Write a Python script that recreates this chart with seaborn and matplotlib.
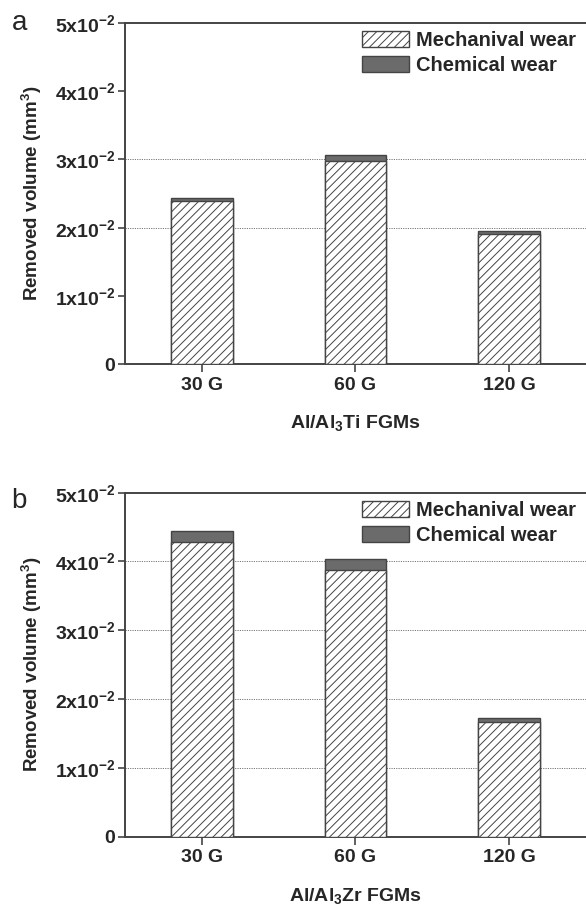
import matplotlib
matplotlib.use("Agg")
import matplotlib.pyplot as plt
from matplotlib.patches import Patch
import seaborn as sns
import numpy as np

# ---- data ----
categories = ["30 G", "60 G", "120 G"]
mech_a = [0.0239, 0.0297, 0.0191]
chem_a = [0.0005, 0.0009, 0.0004]
mech_b = [0.0429, 0.0387, 0.0166]
chem_b = [0.0015, 0.0016, 0.0006]
ytick_vals = [0, 0.01, 0.02, 0.03, 0.04, 0.05]
ytick_labels = ["0", "1x10$^{-2}$", "2x10$^{-2}$", "3x10$^{-2}$", "4x10$^{-2}$", "5x10$^{-2}$"]
grid_a = [0.02, 0.03]
grid_b = [0.01, 0.02, 0.03, 0.04]
legend_labels = ["Mechanival wear", "Chemical wear"]
xlabel_a = "Al/Al$_3$Ti FGMs"
xlabel_b = "Al/Al$_3$Zr FGMs"
ylabel = "Removed volume (mm$^3$)"

sns.set_theme(style="white")
plt.rcParams["font.family"] = ["Liberation Sans", "DejaVu Sans"]
plt.rcParams["font.weight"] = "bold"
plt.rcParams["mathtext.fontset"] = "custom"
plt.rcParams["mathtext.rm"] = "Liberation Sans:bold"
plt.rcParams["mathtext.it"] = "Liberation Sans:bold"
plt.rcParams["mathtext.bf"] = "Liberation Sans:bold"
plt.rcParams["mathtext.default"] = "bf"
plt.rcParams["hatch.linewidth"] = 0.7

EDGE = "#444444"
CHEM = "#6b6b6b"

fig = plt.figure(figsize=(5.86, 9.13), dpi=100)
ax_a = fig.add_axes([0.2133, 0.601, 0.7867, 0.374])
ax_b = fig.add_axes([0.2133, 0.0836, 0.7867, 0.3768])


def draw(ax, mech, chem, grid, xlabel):
    total = [m + c for m, c in zip(mech, chem)]
    sns.barplot(x=categories, y=total, ax=ax, color=CHEM, edgecolor=EDGE,
                linewidth=1.0, width=0.4, saturation=1, zorder=2)
    sns.barplot(x=categories, y=mech, ax=ax, color="white", edgecolor=EDGE,
                linewidth=1.0, width=0.4, saturation=1, hatch="////", zorder=3)
    for g in grid:
        ax.axhline(g, color="#777777", linestyle=(0, (1.2, 1.2)), linewidth=0.7, zorder=1)
    ax.set_ylim(0, 0.05)
    ax.set_xlim(-0.5, 2.5)
    ax.set_yticks(ytick_vals)
    ax.set_yticklabels(ytick_labels)
    ax.tick_params(axis="y", labelsize=14, direction="out", length=5, width=1.2,
                   color=EDGE, left=True, pad=2)
    ax.tick_params(axis="x", labelsize=14, direction="out", length=6, width=1.2,
                   color=EDGE, bottom=True, pad=3)
    for lab in ax.get_xticklabels() + ax.get_yticklabels():
        lab.set_fontweight("bold")
    for s in ["left", "bottom", "top"]:
        ax.spines[s].set_color(EDGE)
        ax.spines[s].set_linewidth(1.4)
    ax.spines["right"].set_visible(False)
    ax.set_xlabel(xlabel, fontsize=14, fontweight="bold", labelpad=14)
    ax.set_ylabel(ylabel, fontsize=13.5, fontweight="bold", labelpad=8)
    handles = [Patch(facecolor="white", edgecolor=EDGE, hatch="////", linewidth=1.0),
               Patch(facecolor=CHEM, edgecolor=EDGE, linewidth=1.0)]
    ax.legend(handles=handles, labels=legend_labels, loc="upper left",
              bbox_to_anchor=(0.515, 0.975), frameon=False,
              prop={"weight": "bold", "size": 14.5}, handlelength=2.3,
              handleheight=0.85, handletextpad=0.35, labelspacing=0.3,
              borderpad=0, borderaxespad=0)


draw(ax_a, mech_a, chem_a, grid_a, xlabel_a)
draw(ax_b, mech_b, chem_b, grid_b, xlabel_b)

fig.text(0.033, 0.967, "a", fontsize=20, fontweight="normal", ha="center", va="baseline")
fig.text(0.033, 0.444, "b", fontsize=20, fontweight="normal", ha="center", va="baseline")

fig.savefig("out.png", dpi=100)
